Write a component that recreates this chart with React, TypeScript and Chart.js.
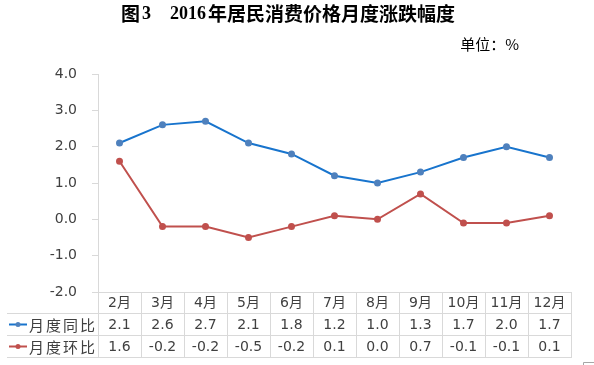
import React, { useEffect, useRef } from "react";
import { Chart, registerables } from "chart.js";

Chart.register(...registerables);

const titleParts = ["图", "3", "2016", "年居民消费价格月度涨跌幅度"];
const unitText = "单位：%";
const categories = ["2月", "3月", "4月", "5月", "6月", "7月", "8月", "9月", "10月", "11月", "12月"];
const yoyName = "月度同比";
const momName = "月度环比";
const yoyValues = [2.1, 2.6, 2.7, 2.1, 1.8, 1.2, 1.0, 1.3, 1.7, 2.0, 1.7];
const momValues = [1.6, -0.2, -0.2, -0.5, -0.2, 0.1, 0.0, 0.7, -0.1, -0.1, 0.1];
const yMin = -2;
const yMax = 4;
const yStep = 1;

const BLUE = "#1874CD";
const BLUE_PT = "#4F81BD";
const RED = "#C0504D";
const GRID = "#d9d9d9";
const TEXT = "#404040";
const NUM_FONT = "14px 'DejaVu Sans', 'Noto Sans CJK SC', sans-serif";
const CJK_FONT = "15px 'Noto Sans CJK SC', 'DejaVu Sans', sans-serif";

const tablePlugin = {
  id: "dataTableAndTitle",
  afterDraw(chart: any) {
    const ctx: CanvasRenderingContext2D = chart.ctx;
    const area = chart.chartArea;
    const n = categories.length;
    const colW = (area.right - area.left) / n;
    const top = Math.round(area.bottom);
    const rows = [top, top + 21, top + 43, top + 65];
    const tableLeft = 7;
    const px = (v: number) => Math.round(v) + 0.5;

    ctx.save();
    ctx.strokeStyle = GRID;
    ctx.lineWidth = 1;
    ctx.beginPath();
    ctx.moveTo(area.left, px(rows[0]));
    ctx.lineTo(area.right, px(rows[0]));
    for (let r = 1; r < rows.length; r++) {
      ctx.moveTo(tableLeft, px(rows[r]));
      ctx.lineTo(area.right, px(rows[r]));
    }
    for (let i = 0; i <= n; i++) {
      const x = px(area.left + i * colW - (i === 0 ? 0.5 : 0));
      ctx.moveTo(x, rows[0]);
      ctx.lineTo(x, rows[3] + 1);
    }
    ctx.stroke();

    ctx.fillStyle = TEXT;
    ctx.textAlign = "center";
    ctx.textBaseline = "middle";
    ctx.font = NUM_FONT;
    const rowMid = (r: number) => (rows[r] + rows[r + 1]) / 2 + 1;
    categories.forEach((c, i) => {
      ctx.fillText(c, area.left + (i + 0.5) * colW, rowMid(0));
    });
    yoyValues.forEach((v, i) => {
      ctx.fillText(v.toFixed(1), area.left + (i + 0.5) * colW, rowMid(1));
    });
    momValues.forEach((v, i) => {
      ctx.fillText(v.toFixed(1), area.left + (i + 0.5) * colW, rowMid(2));
    });

    const drawKey = (r: number, lineColor: string, ptColor: string, name: string) => {
      const y = rowMid(r) - 0.5;
      ctx.strokeStyle = lineColor;
      ctx.lineWidth = 2;
      ctx.beginPath();
      ctx.moveTo(9, y);
      ctx.lineTo(27, y);
      ctx.stroke();
      ctx.fillStyle = ptColor;
      ctx.beginPath();
      ctx.arc(18, y, 2.5, 0, Math.PI * 2);
      ctx.fill();
      ctx.fillStyle = TEXT;
      ctx.textAlign = "left";
      ctx.font = CJK_FONT;
      (ctx as any).letterSpacing = "2px";
      ctx.fillText(name, 29, rowMid(r));
      (ctx as any).letterSpacing = "0px";
    };
    drawKey(1, BLUE, BLUE_PT, yoyName);
    drawKey(2, RED, RED, momName);

    // title, drawn in pieces to match spacing
    ctx.fillStyle = "#000";
    ctx.textAlign = "left";
    ctx.textBaseline = "middle";
    const tx = [121, 142, 170, 208];
    const tFonts = [
      "bold 19px 'Noto Sans CJK SC', serif",
      "bold 18px 'Liberation Serif', serif",
      "bold 18px 'Liberation Serif', serif",
      "bold 19px 'Noto Sans CJK SC', serif",
    ];
    titleParts.forEach((p, i) => {
      ctx.font = tFonts[i];
      ctx.fillText(p, tx[i], 14);
    });
    ctx.textAlign = "right";
    ctx.font = "15px 'Noto Sans CJK SC', 'Liberation Serif', serif";
    ctx.fillText(unitText, 519, 44);

    ctx.strokeStyle = "#a6a6a6";
    ctx.lineWidth = 1;
    ctx.beginPath();
    ctx.moveTo(594, 362.5);
    ctx.lineTo(583.5, 362.5);
    ctx.lineTo(583.5, 366);
    ctx.stroke();
    ctx.restore();
  },
};

export default function App() {
  const ref = useRef<HTMLCanvasElement | null>(null);

  useEffect(() => {
    if (!ref.current) return;
    const chart = new Chart(ref.current, {
      type: "line",
      data: {
        labels: categories,
        datasets: [
          {
            label: yoyName,
            data: yoyValues,
            borderColor: BLUE,
            backgroundColor: BLUE_PT,
            pointBackgroundColor: BLUE_PT,
            pointBorderColor: BLUE_PT,
            pointRadius: 2.5,
            borderWidth: 2,
            tension: 0,
          },
          {
            label: momName,
            data: momValues,
            borderColor: RED,
            backgroundColor: RED,
            pointBackgroundColor: RED,
            pointBorderColor: RED,
            pointRadius: 2.5,
            borderWidth: 2,
            tension: 0,
          },
        ],
      },
      options: {
        animation: false,
        responsive: false,
        maintainAspectRatio: false,
        layout: { padding: { left: 0, right: 23, top: 74, bottom: 73 } },
        plugins: {
          legend: { display: false },
          title: { display: false },
          tooltip: { enabled: false },
        },
        scales: {
          x: {
            type: "category",
            offset: true,
            display: false,
          },
          y: {
            min: yMin,
            max: yMax,
            ticks: {
              stepSize: yStep,
              padding: 15,
              color: TEXT,
              font: { family: "'DejaVu Sans', sans-serif", size: 14 },
              callback: (v: any) => Number(v).toFixed(1),
            },
            grid: {
              drawOnChartArea: false,
              drawTicks: true,
              tickLength: 6,
              color: GRID,
            },
            border: { display: true, color: GRID },
            afterFit: (scale: any) => {
              scale.width = 98;
            },
          },
        },
      },
      plugins: [tablePlugin],
    });
    return () => chart.destroy();
  }, []);

  return (
    <div style={{ position: "fixed", left: 0, top: 0, width: 594, height: 365, background: "#fff" }}>
      <canvas ref={ref} width={594} height={365} style={{ width: 594, height: 365, display: "block" }} />
    </div>
  );
}
